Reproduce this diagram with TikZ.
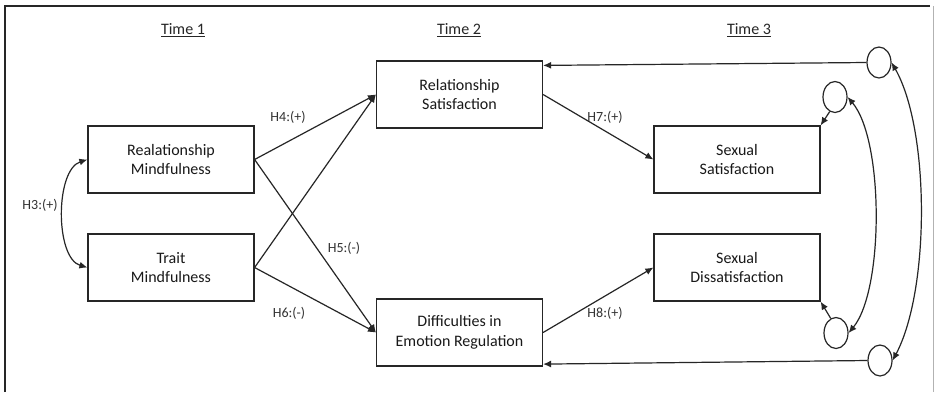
\documentclass[tikz,border=0pt]{standalone}
\usepackage{fontspec}
\setmainfont{Carlito}
\usetikzlibrary{arrows.meta,shapes.geometric,calc}
\begin{document}
\begin{tikzpicture}[x=1pt,y=-1pt,
  box/.style={draw=black!85,line width=1.2pt,rectangle,minimum width=166pt,minimum height=67pt,inner sep=0pt,align=center,font=\fontsize{16}{19.5}\selectfont,text=black!90},
  lat/.style={draw=black!85,line width=1.2pt,ellipse,minimum width=24pt,minimum height=31pt,inner sep=0pt},
  arr/.style={draw=black!85,line width=1.2pt,-{Latex[length=8pt,width=7pt]}},
  darr/.style={draw=black!85,line width=1.2pt,{Latex[length=8pt,width=7pt]}-{Latex[length=8pt,width=7pt]}},
  lbl/.style={font=\fontsize{14}{16}\selectfont,text=black!80},
  ttl/.style={font=\fontsize{16}{18}\selectfont,text=black!85}]
\useasboundingbox (0,0) rectangle (936,392);
\fill[white] (0,0) rectangle (936,392);
% frame
\draw[black!85,line width=1.2pt] (5,392) -- (5,6) -- (930,6);
\draw[black!30,line width=1pt] (933,6) -- (933,392);
% titles
\node[ttl] (t1) at (183,30) {\underline{Time 1}};
\node[ttl] (t2) at (459,30) {\underline{Time 2}};
\node[ttl] (t3) at (749,30) {\underline{Time 3}};
% boxes
\node[box] (RM) at (171,159.5) {Realationship\\Mindfulness};
\node[box] (TM) at (171,267.5) {Trait\\Mindfulness};
\node[box] (RS) at (459.5,94.5) {Relationship\\Satisfaction};
\node[box] (DE) at (459.5,332.5) {Difficulties in\\Emotion Regulation};
\node[box] (SS) at (737,159.5) {Sexual\\Satisfaction};
\node[box] (SD) at (737,267.5) {Sexual\\Dissatisfaction};
% latent circles
\node[lat] (C1) at (879,62.5) {};
\node[lat] (C2) at (835,97) {};
\node[lat] (C3) at (836,333) {};
\node[lat] (C4) at (880,360.5) {};
% paths
\draw[arr] (RM.east) -- (RS.west);
\draw[arr] (RM.east) -- (DE.west);
\draw[arr] (TM.east) -- (RS.west);
\draw[arr] (TM.east) -- (DE.west);
\draw[arr] (RS.east) -- (SS.west);
\draw[arr] (DE.east) -- (SD.west);
\draw[arr] (C1.west) -- ($(RS.north east)+(0,5)$);
\draw[arr] (C4.west) -- ($(DE.south east)+(0,-2.5)$);
\draw[arr] (C2.250) -- (SS.north east);
\draw[arr] (C3.110) -- (SD.south east);
\draw[darr] (RM.west) .. controls (55,170) and (55,258) .. (TM.west);
\draw[darr] (C2.east) .. controls (884,140) and (884,290) .. (C3.east);
\draw[darr] (C1.east) .. controls (930,130) and (930,290) .. (C4.east);
% labels
\node[lbl] (h3) at (40,205) {H3:(+)};
\node[lbl] (h4) at (288,117) {H4:(+)};
\node[lbl] (h5) at (344,248) {H5:(-)};
\node[lbl] (h6) at (289,313) {H6:(-)};
\node[lbl] (h7) at (605,117) {H7:(+)};
\node[lbl] (h8) at (605,313) {H8:(+)};
\end{tikzpicture}
\end{document}
